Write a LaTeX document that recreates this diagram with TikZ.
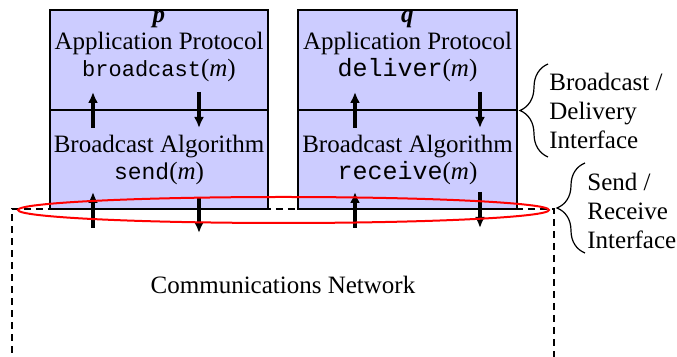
\documentclass[tikz,border=0pt]{standalone}
\usepackage{fontspec}
\setmainfont{Liberation Serif}
\setmonofont{Liberation Mono}
\usetikzlibrary{arrows.meta,decorations.pathreplacing}

% call name in typewriter at a given size, then (m)
\newcommand\fncall[2][11.5]{{\ttfamily\fontsize{#1}{13.5}\selectfont #2}(\textit{m})}

\tikzset{
  layer/.style={draw, line width=1.2pt, fill=blue!20, minimum width=109pt,
    minimum height=50pt, inner sep=0pt},
  txt/.style={align=center, inner sep=0pt, font=\fontsize{12.5}{13.5}\selectfont},
  side/.style={align=left, anchor=west, inner sep=0pt, font=\fontsize{12.5}{14.5}\selectfont},
  flow/.style={-{Latex[length=5.5pt,width=5pt]}, line width=1.6pt},
  iface/.style={decorate, decoration={brace, amplitude=14pt}, line width=0.6pt},
  net/.style={line width=0.9pt, dash pattern=on 3.5pt off 2.5pt}
}

\begin{document}
\begin{tikzpicture}[x=0.5pt, y=-0.5pt]
    \useasboundingbox (0,0) rectangle (677,357);

    % network, open at the bottom
    \draw[net] (12,365) -- (12,209) -- (554,209) -- (554,365);
    \node[txt] (net) at (283,285) {Communications Network};

    % process p
    \node[layer] (papp) at (159,60) {};
    \node[layer, minimum height=49.5pt] (palg) at (159,159.5) {};
    \node[txt] (ptop) at (159,46) {\textbf{\textit{p}}\\Application Protocol\\\fncall[11]{broadcast}};
    \node[txt] (pbot) at (159,160) {Broadcast Algorithm\\\fncall{send}};

    % process q
    \node[layer, minimum width=109.5pt] (qapp) at (407.5,60) {};
    \node[layer, minimum width=109.5pt, minimum height=49.5pt] (qalg) at (407.5,159.5) {};
    \node[txt] (qtop) at (407.5,46) {\textbf{\textit{q}}\\Application Protocol\\\fncall[12.5]{deliver}};
    \node[txt] (qbot) at (407.5,160) {Broadcast Algorithm\\\fncall[12.5]{receive}};

    % up and down calls
    \foreach \x in {93,355} {
        \draw[flow] (\x,128) -- (\x,92);
        \draw[flow] (\x,228) -- (\x,192);
    }
    \foreach \x in {199,480}
        \draw[flow] (\x,92) -- (\x,128);
    \draw[flow] (199,197) -- (199,233);
    \draw[flow] (480,192) -- (480,228);

    % send / receive ring
    \draw[red, line width=1pt] (283.5,210) ellipse [x radius=265.5, y radius=13];

    % interfaces
    \draw[iface] (548,157) -- (548,64);
    \node[side] (bdi) at (549,111) {Broadcast /\\Delivery\\Interface};
    \draw[iface] (585,253) -- (585,163);
    \node[side] (sri) at (587,211) {Send /\\Receive\\Interface};
\end{tikzpicture}
\end{document}
